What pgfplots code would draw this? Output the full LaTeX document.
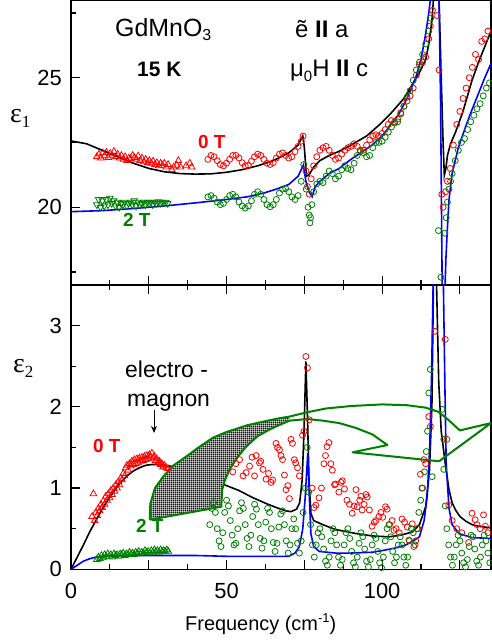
\documentclass[border=0pt]{standalone}
\usepackage{fontspec}
\setmainfont{Liberation Sans}
\newfontfamily\serifgr{Liberation Serif}
\usepackage{pgfplots}
\pgfplotsset{compat=1.18}
\usetikzlibrary{patterns,arrows.meta}
\definecolor{dgreen}{RGB}{0,128,0}
\pgfdeclarepatternformonly{finegrid}{\pgfpointorigin}{\pgfpoint{2.2bp}{2.2bp}}{\pgfpoint{2.2bp}{2.2bp}}{%
  \pgfsetlinewidth{0.9bp}%
  \pgfpathmoveto{\pgfpoint{0bp}{1.1bp}}\pgfpathlineto{\pgfpoint{2.2bp}{1.1bp}}%
  \pgfpathmoveto{\pgfpoint{1.1bp}{0bp}}\pgfpathlineto{\pgfpoint{1.1bp}{2.2bp}}%
  \pgfusepath{stroke}}
\pgfplotsset{
 panel/.style={scale only axis, width=420bp, xmin=0, xmax=135,
   xtick={0,25,...,125}, minor x tick num=1,
   major tick length=9bp, minor tick length=5bp,
   axis line style={line width=1.5bp},
   every tick/.style={black, line width=1.2bp},
   tick label style={font=\fontsize{22}{24}\selectfont},
   /pgf/number format/assume math mode=true,
   yticklabel style={inner sep=0pt, xshift=-9bp},
   xticklabel style={inner sep=0pt, yshift=-13.5bp},
   ytick pos=left,
 },
 rc/.style={only marks, mark=o, red, mark size=3bp, mark options={line width=0.8bp}},
 gc/.style={only marks, mark=o, dgreen, mark size=3bp, mark options={line width=0.8bp}},
 rt/.style={only marks, mark=triangle, red, mark size=3.8bp, mark options={line width=0.8bp}},
 gt/.style={only marks, mark=triangle, dgreen, mark size=3.8bp, mark options={line width=0.8bp}},
 gti/.style={only marks, mark=triangle, dgreen, mark size=3.8bp, mark options={line width=0.8bp, rotate=180}},
 fitk/.style={black, line width=1.6bp, no marks},
 fitb/.style={blue, line width=1.6bp, no marks},
}
\begin{document}
\begin{tikzpicture}
% ---------------- top panel: eps1 ----------------
\begin{axis}[panel, at={(71bp,359bp)}, anchor=south west, height=285bp,
  ymin=17, ymax=28, ytick={20,25}, minor ytick={17.5,22.5,27.5},
  xtick pos=bottom, xticklabels={}]
\addplot[rt] coordinates {(8.3,21.95)(9,22.05)(9.6,21.9)(10.2,22.1)(10.8,21.98)(11.4,22.12)(12,21.92)(12.6,22.08)(13.2,22.0)(13.8,22.15)(14.4,21.95)(15,22.05)(15.6,21.9)(16.2,22.0)(16.8,21.85)(17.4,21.95)(18,21.8)(18.6,21.9)(19.2,21.88)(19.8,22.0)(20.4,21.92)(21,21.85)(21.6,21.98)(22.2,21.8)(22.8,21.9)(23.4,21.75)(24,21.85)(24.6,21.72)(25.2,21.8)(25.8,21.7)(26.4,21.78)(27,21.65)(27.6,21.72)(28.2,21.6)(28.8,21.7)(29.4,21.62)(30,21.7)(30.6,21.55)(31.2,21.65)(32.4,21.45)(33,21.55)(34,21.62)(34.5,21.8)(35.2,21.55)(37,21.6)(38.2,21.7)(38.8,21.55)};
\addplot[gti] coordinates {(8.3,20.1)(8.9,20.3)(9.5,20.0)(10.1,20.25)(10.7,20.05)(11.3,20.3)(11.9,20.1)(12.5,20.35)(13.1,20.15)(13.7,20.25)(14.3,20.05)(14.9,20.2)(15.5,20.0)(16.1,20.15)(16.7,20.1)(17.3,20.2)(17.9,20.05)(18.5,20.15)(19.1,20.2)(19.7,20.1)(20.3,20.25)(20.9,20.05)(21.5,20.2)(22.1,20.1)(22.7,20.15)(23.3,20.2)(23.9,20.1)(24.5,20.2)(25.1,20.15)(25.7,20.2)(26.3,20.1)(26.9,20.2)(27.5,20.15)(28.1,20.22)(28.7,20.15)(29.3,20.2)(29.9,20.18)(30.5,20.2)(31.1,20.15)};
\addplot[rc] coordinates {(44,21.85)(45,22.0)(46,21.95)(47,21.8)(48,21.65)(49,21.6)(50,21.7)(51,21.85)(52,22.0)(53,22.0)(54,21.9)(55,21.72)(56,21.6)(57,21.62)(58,21.78)(59,21.95)(60,22.05)(61,22.0)(62,21.85)(63,21.7)(64,21.65)(65,21.72)(66,21.9)(67,22.05)(68,22.1)(69,22.0)(70,21.9)(71,21.95)(72,22.15)(73,22.35)(74,22.55)(74.6,22.75)(75.5,21.4)(76,20.8)(76.6,20.5)(77.2,21.1)(78,21.6)(79,21.95)(80,22.2)(81,22.3)(82,22.35)(83,22.2)(84,22.0)(85,21.85)(86,21.9)(87,22.05)(88,22.2)(89,22.3)(90,22.35)(91,22.45)(92,22.35)(93,22.2)(94,22.2)(95,22.4)(96,22.6)(97,22.75)(98,22.8)(99,22.75)(100,22.85)(101,23.0)(102,23.2)(103,23.35)(104,23.3)(105,23.4)(106,23.65)(107,23.9)(108,24.1)(109,24.3)(110,24.6)(111,25.1)(112,25.5)(113,25.6)(114,25.8)(115,26.5)(115.5,27.0)(116.2,27.6)(117.6,27.4)(118.3,25.3)(119.2,20.5)(119.6,20.0)(120.4,20.6)(121,21.0)(121.9,21.5)(122.9,22.4)(124,23.2)(125,23.7)(126,24.2)(127,24.6)(128,25.0)(129,25.4)(130,25.9)(131,25.7)(132,26.4)(133,26.5)(134,26.8)};
\addplot[gc] coordinates {(44,20.4)(45,20.45)(46,20.35)(47,20.2)(48,20.1)(49,20.15)(50,20.3)(51,20.45)(52,20.5)(53,20.4)(54,20.2)(55,20.05)(56,19.97)(57,20.05)(58,20.25)(59,20.5)(60,20.6)(61,20.5)(62,20.3)(63,20.1)(64,20.02)(65,20.1)(66,20.3)(67,20.55)(68,20.7)(69,20.72)(70,20.6)(71,20.4)(72,20.3)(73,20.45)(74,21.0)(74.8,21.65)(75.6,20.7)(76.2,20.0)(76.6,19.7)(76.8,19.4)(77,19.6)(77.4,20.1)(78,20.6)(79,20.9)(80,21.0)(81,20.95)(82,21.2)(83,21.4)(84,21.3)(85,21.1)(86,21.2)(87,21.45)(88,21.6)(89,21.5)(90,21.45)(91,21.7)(92,22.0)(93,22.15)(94,22.1)(95,21.95)(96,22.0)(97,22.3)(98,22.5)(99,22.5)(100,22.55)(101,22.7)(102,22.9)(103,23.1)(104,23.25)(105,23.3)(106,23.6)(107,23.9)(108,24.25)(109,24.5)(110,24.9)(111,25.3)(112,25.6)(113,25.9)(114,26.3)(115,26.8)(115.6,27.3)(118.1,19.1)(118.9,17.3)(120.2,19.0)(120.6,19.6)(121,20.2)(121.5,20.7)(122,21.0)(122.5,21.3)(123.5,21.8)(124.5,22.2)(125.5,22.5)(126.5,22.65)(127.5,23.0)(128.5,23.3)(129.5,23.55)(130.5,23.8)(131.5,24.0)(132.5,24.3)(133.5,24.6)(134.5,24.8)};
\addplot[fitk] coordinates {(0,22.56)(5,22.45)(10,22.2)(15,21.95)(20,21.7)(25,21.5)(30,21.37)(35,21.3)(40,21.28)(45,21.29)(50,21.35)(55,21.45)(60,21.6)(65,21.8)(70,22.1)(73,22.4)(74.5,22.75)(75,22.3)(75.7,21.2)(76.5,21.25)(78,21.55)(80,21.8)(83,22.0)(86,22.15)(90,22.4)(95,22.75)(99,23.17)(103,23.65)(107,24.2)(110,24.8)(112,25.2)(114,25.7)(115,26.3)(116,27.2)(116.8,28.5)(117.3,31)(117.8,30)(118.3,28)(119,25)(119.6,22.5)(120,21.24)(120.5,21.5)(121,22.0)(122,22.45)(123.6,22.9)(126,23.7)(128.9,24.9)(131,25.6)(133,26.2)(135,26.8)};
\addplot[fitb] coordinates {(0,19.83)(10,19.87)(20,19.95)(30,20.05)(40,20.17)(50,20.3)(57,20.41)(62,20.55)(66,20.7)(70,20.88)(73,21.2)(74.7,21.63)(75.5,21.0)(76.5,20.6)(77.5,20.41)(78.5,20.8)(80,21.0)(83,21.3)(86.2,21.5)(90,21.85)(96.8,22.4)(100,22.75)(105.4,23.6)(108,24.2)(110.8,25.0)(112.5,25.7)(114,26.7)(115,27.5)(115.7,28.2)(116.5,30)(117.5,33)(118.3,28)(118.8,24)(119.3,17)(119.6,10)(120,16)(120.5,18)(120.9,19.0)(121.5,20.3)(122.5,21.3)(124.5,22.3)(126.8,23.1)(129,23.8)(131,24.4)(133,25.0)(135,25.55)};
\end{axis}
% ---------------- bottom panel: eps2 ----------------
\begin{axis}[panel, at={(71bp,74.7bp)}, anchor=south west, height=284.3bp,
  ymin=0, ymax=3.5, ytick={0,1,2,3}, minor ytick={0.5,1.5,2.5},
  xtick pos=both, xticklabels={0,,50,,100,}]
\addplot[rt] coordinates {(6.8,0.65)(7.2,0.93)(7.6,0.6)(8.0,0.7)(8.4,0.66)(8.8,0.75)(9.2,0.72)(9.6,0.8)(10,0.76)(10.4,0.84)(10.8,0.8)(11.2,0.9)(11.6,0.85)(12,0.93)(12.4,0.88)(12.8,0.97)(13.2,0.92)(13.6,1.0)(14,0.96)(14.4,1.04)(14.8,1.0)(15.2,1.08)(15.6,1.04)(16,1.12)(16.4,1.1)(16.8,1.18)(17.2,1.15)(17.6,1.25)(18,1.28)(18.4,1.22)(18.8,1.3)(19.2,1.27)(19.6,1.33)(20,1.29)(20.4,1.35)(20.8,1.3)(21.2,1.36)(21.6,1.31)(22,1.37)(22.4,1.33)(22.8,1.38)(23.2,1.34)(23.6,1.39)(24,1.35)(24.4,1.4)(24.8,1.36)(25.2,1.41)(25.6,1.38)(26,1.43)(26.4,1.37)(26.8,1.39)(27.2,1.34)(27.6,1.36)(28,1.31)(28.4,1.33)(28.8,1.29)(29.2,1.3)(29.6,1.26)(30,1.28)(30.6,1.25)(31.2,1.24)};
\addplot[gt] coordinates {(8.3,0.12)(8.8,0.15)(9.3,0.13)(9.8,0.17)(10.3,0.14)(10.8,0.18)(11.3,0.16)(11.8,0.19)(12.3,0.16)(12.8,0.18)(13.3,0.15)(13.8,0.19)(14.3,0.17)(14.8,0.18)(15.3,0.16)(15.8,0.19)(16.3,0.18)(16.8,0.2)(17.3,0.17)(17.8,0.19)(18.3,0.18)(18.8,0.21)(19.3,0.19)(19.8,0.2)(20.3,0.18)(20.8,0.21)(21.3,0.2)(21.8,0.22)(22.3,0.19)(22.8,0.21)(23.3,0.2)(23.8,0.23)(24.3,0.21)(24.8,0.22)(25.3,0.2)(25.8,0.23)(26.3,0.21)(26.8,0.24)(27.3,0.22)(27.8,0.23)(28.3,0.21)(28.8,0.24)(29.3,0.22)(29.8,0.23)(30.3,0.22)(30.8,0.24)(31.3,0.22)};
\addplot[rc] coordinates {(52,1.2)(53,1.3)(54.2,1.35)(55.3,1.15)(56.3,1.19)(57.4,1.27)(58.2,1.38)(59,1.15)(59.5,1.4)(60.6,1.31)(61,1.33)(61.7,1.23)(62.7,1.11)(63.5,1.18)(64.3,1.07)(64.8,1.1)(65.9,1.55)(66.4,1.5)(67,1.47)(67.5,1.4)(68,1.35)(68.6,1.16)(69.1,0.98)(69.7,1.03)(70.2,0.87)(70.7,1.6)(71.2,1.55)(71.8,1.35)(72.2,1.31)(72.8,1.25)(73.4,1.15)(74.4,1.65)(74.9,1.7)(75.5,2.62)(76,2.48)(76.6,1.84)(77.5,1.0)(78.1,0.76)(78.7,0.79)(79.7,0.88)(80.5,1.0)(81.3,1.3)(81.8,1.4)(82.3,1.51)(82.9,1.56)(83.5,1.3)(84,1.22)(84.7,1.04)(85,1.05)(86.1,0.95)(86.8,1.07)(87.2,1.09)(87.9,0.99)(88.7,0.85)(89.5,0.8)(90.4,0.69)(91,0.78)(91.6,0.98)(92,0.77)(92.8,0.85)(93.2,0.9)(93.6,0.73)(94.2,0.8)(94.8,0.92)(95.2,0.89)(95.9,0.73)(96.8,0.53)(97.5,0.58)(98,0.6)(99,0.65)(99.6,0.7)(100.2,0.64)(101.1,0.77)(101.6,0.74)(102.4,0.55)(103.2,0.6)(103.8,0.48)(104.5,0.5)(105.5,0.45)(106.4,0.62)(107.2,0.58)(108.1,0.52)(108.6,0.36)(109.7,0.56)(110.2,0.28)(110.8,0.35)(111.5,0.5)(112.3,1.17)(112.8,1.0)(113.4,1.35)(114,1.3)(115,1.88)(115.5,1.76)(116.9,2.93)(120.3,2.83)(120.8,1.6)(121.4,0.79)(122.5,0.6)(124,0.5)(125.6,0.45)(127.8,0.33)(128.9,0.69)(129.9,0.61)(130.5,0.55)(131.5,0.5)(132.6,0.67)(133.2,0.53)(134,0.45)};
\addplot[gc] coordinates {(44.6,0.55)(45.2,0.75)(45.8,0.82)(46.4,0.7)(47,0.5)(47.6,0.35)(48.2,0.28)(48.8,0.45)(49.4,0.7)(50,0.85)(50.6,0.78)(51.2,0.6)(51.8,0.42)(52.4,0.3)(53,0.32)(53.6,0.5)(54.2,0.72)(54.8,0.82)(55.4,0.75)(56,0.55)(56.6,0.38)(57.2,0.28)(57.8,0.42)(58.4,0.65)(59,0.8)(59.6,0.74)(60.2,0.55)(60.8,0.38)(61.4,0.26)(62,0.35)(62.6,0.58)(63.2,0.75)(63.8,0.7)(64.4,0.5)(65,0.33)(65.6,0.22)(66.2,0.32)(66.8,0.52)(67.4,0.68)(68,0.72)(68.6,0.55)(69.2,0.35)(69.8,0.2)(70.4,0.3)(71,0.5)(71.6,0.62)(72.2,0.5)(72.8,0.32)(73.4,0.2)(74,0.35)(74.6,0.7)(75.3,1.0)(75.9,1.5)(76.4,0.95)(77,0.55)(77.6,0.3)(78.2,0.15)(78.8,0.3)(79.4,0.45)(80,0.5)(80.6,0.4)(81.2,0.25)(81.8,0.1)(82.4,0.05)(83,0.15)(83.6,0.35)(84.2,0.5)(84.8,0.45)(85.4,0.3)(86,0.15)(86.6,0.05)(87.2,0.12)(87.8,0.3)(88.4,0.45)(89,0.5)(89.6,0.38)(90.2,0.22)(90.8,0.08)(91.4,0.03)(92,0.15)(92.6,0.32)(93.2,0.45)(93.8,0.4)(94.4,0.25)(95,0.1)(95.6,0.03)(96.2,0.12)(96.8,0.3)(97.4,0.42)(98,0.38)(98.6,0.22)(99.2,0.08)(99.8,0.02)(100.4,0.15)(101,0.35)(101.6,0.5)(102.2,0.55)(102.8,0.4)(103.4,0.22)(104,0.08)(104.6,0.15)(105.2,0.3)(105.8,0.4)(106.4,0.3)(107,0.15)(107.6,0.05)(108.2,0.15)(108.8,0.35)(109.4,0.5)(110,0.45)(110.6,0.3)(111.2,0.5)(111.8,0.7)(112.4,0.85)(113,1.0)(113.6,1.2)(114.2,1.45)(114.6,1.7)(115,2.17)(115.5,2.46)(116.1,1.14)(119.3,1.97)(119.8,1.6)(119.8,1.23)(120.3,0.78)(120.8,0.5)(121.4,0.3)(122,0.15)(122.6,0.05)(123.2,0.15)(123.8,0.3)(124.4,0.42)(125,0.35)(125.6,0.2)(126.2,0.08)(126.8,0.03)(127.4,0.12)(128,0.28)(128.6,0.42)(129.2,0.4)(129.8,0.25)(130.4,0.1)(131,0.05)(131.6,0.15)(132.2,0.3)(132.8,0.42)(133.4,0.35)(134,0.2)(134.6,0.08)};
\addplot[fitk] coordinates {(0,0)(2,0.15)(4,0.3)(6,0.46)(8,0.6)(10,0.74)(12,0.86)(14,0.97)(16,1.07)(18,1.15)(20,1.21)(22,1.25)(24,1.28)(26,1.29)(28,1.29)(30,1.28)(32,1.27)(34,1.25)(36,1.22)(40,1.17)(45,1.1)(50,1.03)(54,0.97)(58,0.89)(62.7,0.81)(66,0.76)(69,0.72)(70.7,0.71)(72.5,0.74)(73.5,0.82)(74.3,1.1)(74.9,1.7)(75.5,2.56)(76,1.9)(76.5,1.1)(77.1,0.69)(78,0.6)(80.9,0.55)(85,0.49)(91.6,0.44)(97,0.41)(102.2,0.40)(106,0.42)(109.7,0.46)(112,0.55)(114,0.77)(115.2,1.2)(116,2.0)(116.5,3.5)(117,5)(117.5,3.5)(118.2,2.3)(119,1.7)(120.4,1.27)(121.5,0.98)(122.5,0.82)(123.6,0.73)(125,0.65)(127,0.59)(128.9,0.55)(131,0.53)(135,0.51)};
\addplot[fitb] coordinates {(0,0)(2,0.05)(4,0.1)(6,0.13)(8,0.15)(10,0.16)(15,0.17)(20,0.17)(30,0.17)(40,0.17)(50,0.16)(60,0.16)(70,0.16)(72,0.2)(73.4,0.28)(74.5,0.5)(75.3,0.9)(76.1,1.43)(76.6,0.9)(77.1,0.44)(78,0.28)(79.8,0.22)(85,0.2)(90,0.2)(96.9,0.21)(100,0.23)(104,0.26)(107.6,0.3)(110,0.35)(112,0.4)(113.5,0.6)(114.5,0.9)(115.3,1.5)(115.9,2.4)(116.4,3.5)(117,6)(118,8)(119,6)(119.7,3.5)(120.2,2.2)(120.6,1.3)(121.5,0.75)(122.5,0.55)(124.7,0.44)(128.9,0.39)(135,0.38)};
% electromagnon band (shaded) and curved outline
\addplot[draw=none, fill=white] coordinates {(25.3,0.61)(25.5,0.81)(27,1.0)(29.6,1.14)(33,1.28)(37.1,1.39)(41,1.5)(45.6,1.62)(50,1.69)(56.3,1.77)(62,1.82)(67,1.86)(70.2,1.88)(70.2,1.83)(66,1.76)(63.8,1.72)(60,1.64)(56.3,1.51)(53.5,1.38)(51,1.23)(49.5,1.1)(48.6,0.98)(48.3,0.77)(25.3,0.61)};
\addplot[draw=none, pattern=finegrid, pattern color=black] coordinates {(25.3,0.61)(25.5,0.81)(27,1.0)(29.6,1.14)(33,1.28)(37.1,1.39)(41,1.5)(45.6,1.62)(50,1.69)(56.3,1.77)(62,1.82)(67,1.86)(70.2,1.88)(70.2,1.83)(66,1.76)(63.8,1.72)(60,1.64)(56.3,1.51)(53.5,1.38)(51,1.23)(49.5,1.1)(48.6,0.98)(48.3,0.77)(25.3,0.61)};
\addplot[dgreen, line width=2bp, no marks, line join=round] coordinates {(25.3,0.61)(25.5,0.81)(27,1.0)(29.6,1.14)(33,1.28)(37.1,1.39)(41,1.5)(45.6,1.62)(50,1.69)(56.3,1.77)(62,1.82)(67,1.86)(70.2,1.88)(75.5,1.93)(82,1.98)(90,2.01)(100,2.03)(108,2.02)(114,1.99)(118,1.94)(120.4,1.87)(125,1.71)(135,1.80)(118.3,1.33)(90.5,1.44)(101.7,1.53)(96.9,1.66)(91.6,1.74)(86.2,1.80)(80.9,1.83)(76,1.85)(70.2,1.83)(66,1.76)(63.8,1.72)(60,1.64)(56.3,1.51)(53.5,1.38)(51,1.23)(49.5,1.1)(48.6,0.98)(48.3,0.77)(25.3,0.61)};
\end{axis}
% ---------------- text ----------------
\node[anchor=base west, inner sep=0pt] at (115bp,607bp) {\fontsize{25}{28}\selectfont GdMnO\raisebox{-0.3ex}{\fontsize{16}{16}\selectfont 3}};
\node[anchor=base west, inner sep=0pt] at (137bp,567bp) {\fontsize{21}{24}\selectfont\bfseries 15 K};
\node[anchor=base west, inner sep=0pt] at (295bp,606bp) {\fontsize{24}{26}\selectfont ẽ \textbf{II} a};
\node[anchor=base west, inner sep=0pt] at (290bp,567bp) {\fontsize{24}{26}\selectfont μ\raisebox{-0.35ex}{\fontsize{15}{15}\selectfont 0}H \textbf{II} c};
\node[anchor=base west, inner sep=0pt, text=red] at (198bp,495bp) {\fontsize{19}{22}\selectfont\bfseries 0 T};
\node[anchor=base west, inner sep=0pt, text=dgreen] at (123bp,417bp) {\fontsize{19}{22}\selectfont\bfseries 2 T};
\node[anchor=base west, inner sep=0pt] at (10bp,521bp) {\serifgr\fontsize{28}{30}\selectfont ε\raisebox{-0.35ex}{\fontsize{17}{17}\selectfont 1}};
\node[anchor=base west, inner sep=0pt] at (13bp,271bp) {\serifgr\fontsize{28}{30}\selectfont ε\raisebox{-0.35ex}{\fontsize{17}{17}\selectfont 2}};
\node[anchor=base west, inner sep=0pt] at (125bp,266bp) {\fontsize{23}{26}\selectfont electro -};
\node[anchor=base west, inner sep=0pt] at (127bp,237bp) {\fontsize{23}{26}\selectfont magnon};
\draw[-{Stealth[length=7bp,width=6bp]}, line width=1bp] (154bp,234bp) -- (154bp,211bp);
\node[anchor=base west, inner sep=0pt, text=red] at (93bp,191bp) {\fontsize{19}{22}\selectfont\bfseries 0 T};
\node[anchor=base west, inner sep=0pt, text=dgreen] at (136bp,111bp) {\fontsize{19}{22}\selectfont\bfseries 2 T};
\node[anchor=base west, inner sep=0pt] at (185bp,14bp) {\fontsize{20}{22}\selectfont Frequency (cm\raisebox{0.75ex}{\fontsize{13}{13}\selectfont -1})};
\pgfresetboundingbox
\path[use as bounding box] (0,0) rectangle (492bp,644bp);
\end{tikzpicture}
\end{document}
